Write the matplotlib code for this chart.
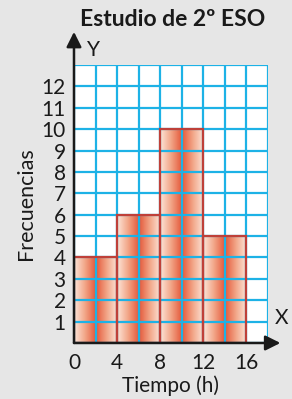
import matplotlib
matplotlib.use("Agg")
from matplotlib import pyplot as plt
from matplotlib.colors import LinearSegmentedColormap
import numpy as np

# data
bin_left = [0, 4, 8, 12]
bin_width = [4, 4, 4, 4]
freqs = [4, 6, 10, 5]
x_ticks = [0, 4, 8, 12, 16]
y_ticks = [1, 2, 3, 4, 5, 6, 7, 8, 9, 10, 11, 12]

BG = "#e6e6e6"
GRID = "#1db2e6"
INK = "#1a1a1a"
plt.rcParams['font.family'] = ['Lato', 'DejaVu Sans']

fig = plt.figure(figsize=(2.92, 3.99), dpi=100, facecolor=BG)
ax = fig.add_axes([0.2534, 0.1404, 0.6644, 0.6967])
ax.set_facecolor("white")

# bars with light-dark-light gradient
cmap = LinearSegmentedColormap.from_list("bar", ["#fde6da", "#f2a688", "#e4583a"])
grad = 1 - np.abs(np.linspace(-1, 1, 200))
grad = grad.reshape(1, -1)
for x0, w, h in zip(bin_left, bin_width, freqs):
    ax.imshow(grad, extent=(x0, x0 + w, 0, h), cmap=cmap, aspect='auto',
              interpolation='bilinear', zorder=1, vmin=0, vmax=1)

# grid
ax.vlines(np.arange(0, 19, 2), 0, 13, color=GRID, lw=1.6, zorder=2)
ax.hlines(np.arange(0, 14, 1), 0, 18, color=GRID, lw=1.6, zorder=2)

ax.bar(bin_left, freqs, width=bin_width, align='edge', fill=False,
       edgecolor="#bf4039", lw=1.6, zorder=3)
ax.set_aspect('auto')
ax.set_xlim(0, 18)
ax.set_ylim(0, 13)

for s in ax.spines.values():
    s.set_visible(False)

# axes arrows
ax.annotate("", xy=(0, 14.55), xytext=(0, 0), xycoords='data',
            arrowprops=dict(arrowstyle="-|>,head_length=0.9,head_width=0.45",
                            color=INK, lw=1.8, shrinkA=0, shrinkB=0),
            annotation_clip=False, zorder=5)
ax.annotate("", xy=(19.15, 0), xytext=(0, 0), xycoords='data',
            arrowprops=dict(arrowstyle="-|>,head_length=0.9,head_width=0.45",
                            color=INK, lw=1.8, shrinkA=0, shrinkB=0),
            annotation_clip=False, zorder=5)
ax.text(1.85, 13.7, "Y", fontsize=15, color=INK, ha='center', va='center')
ax.text(19.3, 1.17, "X", fontsize=15, color=INK, ha='center', va='center')

ax.set_xticks(x_ticks)
ax.set_xticklabels([str(v) for v in x_ticks], fontsize=15, color=INK)
ax.set_yticks(y_ticks)
ax.set_yticklabels([str(v) for v in y_ticks], fontsize=15, color=INK)
ax.tick_params(length=0, pad=6)
ax.tick_params(axis='x', pad=7)

ax.set_xlabel("Tiempo (h)", fontsize=15, color=INK, labelpad=2)
fig.text(0.088, 0.49, "Frecuencias", rotation=90, fontsize=15.5, color=INK,
         ha='center', va='center')
fig.text(0.59, 0.935, "Estudio de 2º ESO", fontsize=16.5, fontweight='bold',
         color=INK, ha='center', va='baseline')

fig.savefig("out.png", dpi=100, facecolor=BG)
